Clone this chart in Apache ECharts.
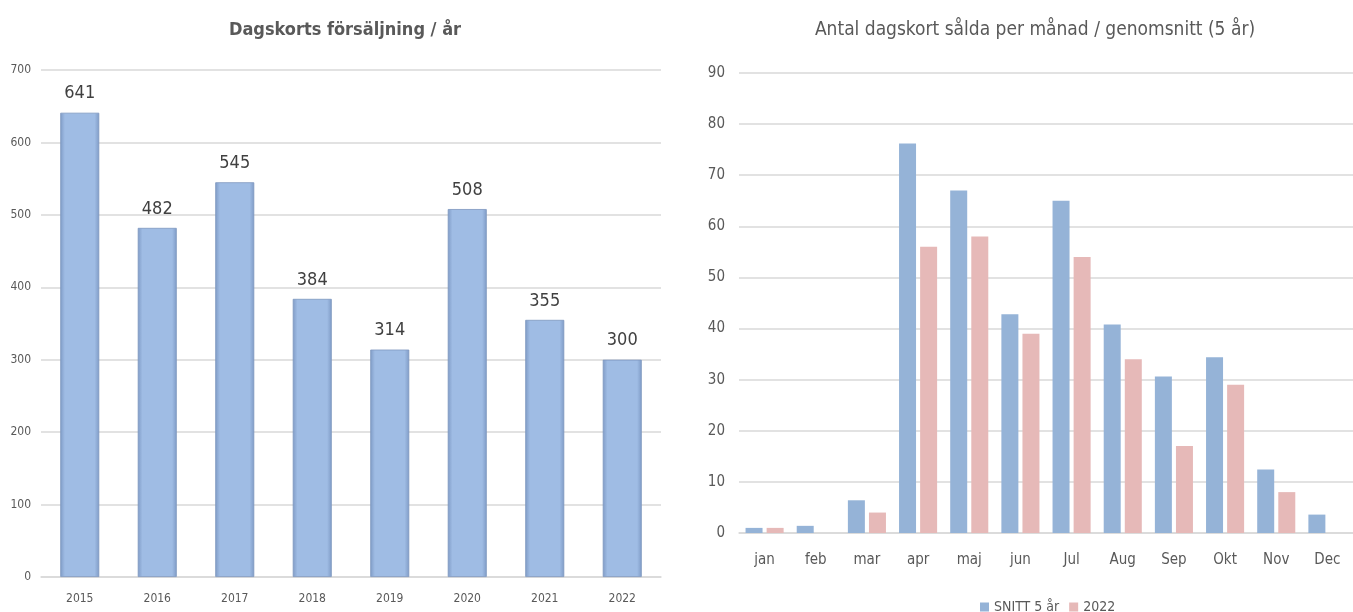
<!DOCTYPE html>
<html><head><meta charset="utf-8">
<script src="https://cdn.jsdelivr.net/npm/echarts@6/dist/echarts.min.js"></script>
<style>html,body{margin:0;padding:0;background:#fff}#c{width:1353px;height:612px}</style>
</head><body><div id="c"></div>
<script>
const years = ['2015','2016','2017','2018','2019','2020','2021','2022'];
const yearSales = [641, 482, 545, 384, 314, 508, 355, 300];
const yearTicks = [0,100,200,300,400,500,600,700];

const months = ['jan','feb','mar','apr','maj','jun','Jul','Aug','Sep','Okt','Nov','Dec'];
const snitt5 = [1, 1.4, 6.4, 76.2, 67, 42.8, 65, 40.8, 30.6, 34.4, 12.4, 3.6];
const y2022 = [1, 0, 4, 56, 58, 39, 54, 34, 17, 29, 8, 0];
const monthTicks = [0,10,20,30,40,50,60,70,80,90];

const FONT = '"Liberation Sans Narrow","DejaVu Sans Condensed","Noto Sans",sans-serif';
const chart = echarts.init(document.getElementById('c'));
const gridLine = {show:true, lineStyle:{color:'#d9d9d9', width:1.5}};
chart.setOption({
  animation:false,
  textStyle:{fontFamily:FONT},
  title:[
    {text:'Dagskorts försäljning / år', left:340, top:16, textAlign:'center',
     textStyle:{fontFamily:FONT, fontSize:18, fontWeight:'bold', color:'#595959'}},
    {text:'Antal dagskort sålda per månad / genomsnitt (5 år)', left:1030, top:16, textAlign:'center',
     textStyle:{fontFamily:FONT, fontSize:19, fontWeight:'normal', color:'#595959'}}
  ],
  legend:{data:['SNITT 5 år','2022'], left:975, top:595, itemWidth:9, itemHeight:9, itemGap:10, icon:'rect',
    textStyle:{fontFamily:FONT, fontSize:14, color:'#595959'}},
  grid:[
    {left:41, width:620, top:70, height:507},
    {left:739, right:-9, top:73, height:460}
  ],
  xAxis:[
    {type:'category', gridIndex:0, data:years, axisTick:{show:false},
     axisLine:{lineStyle:{color:'#d9d9d9', width:1.5}},
     axisLabel:{color:'#595959', fontSize:12, margin:16}},
    {type:'category', gridIndex:1, data:months, axisTick:{show:false},
     axisLine:{lineStyle:{color:'#d9d9d9', width:1.5}},
     axisLabel:{color:'#595959', fontSize:15, margin:20}}
  ],
  yAxis:[
    {type:'value', gridIndex:0, min:yearTicks[0], max:yearTicks[yearTicks.length-1], interval:100,
     splitLine:gridLine, axisLine:{show:false}, axisTick:{show:false},
     axisLabel:{color:'#595959', fontSize:12, margin:10}},
    {type:'value', gridIndex:1, min:monthTicks[0], max:monthTicks[monthTicks.length-1], interval:10,
     splitLine:gridLine, axisLine:{show:false}, axisTick:{show:false},
     axisLabel:{color:'#595959', fontSize:15, margin:14}}
  ],
  series:[
    {type:'bar', xAxisIndex:0, yAxisIndex:0, data:yearSales, barWidth:39,
     itemStyle:{color:new echarts.graphic.LinearGradient(0,0,1,0,[
       {offset:0,color:'#7f9bc6'},{offset:0.12,color:'#9fbce4'},{offset:0.88,color:'#9fbce4'},{offset:1,color:'#7f9bc6'}]),
       borderColor:'#7d97bf', borderWidth:0.8},
     label:{show:true, position:'top', distance:10, color:'#404040', fontSize:18, fontFamily:FONT}},
    {name:'SNITT 5 år', type:'bar', xAxisIndex:1, yAxisIndex:1, data:snitt5, barWidth:17, barGap:'24%',
     itemStyle:{color:'#95b3d7'}},
    {name:'2022', type:'bar', xAxisIndex:1, yAxisIndex:1, data:y2022, barWidth:17, barGap:'24%',
     itemStyle:{color:'#e6b9b8'}}
  ]
});
</script></body></html>
